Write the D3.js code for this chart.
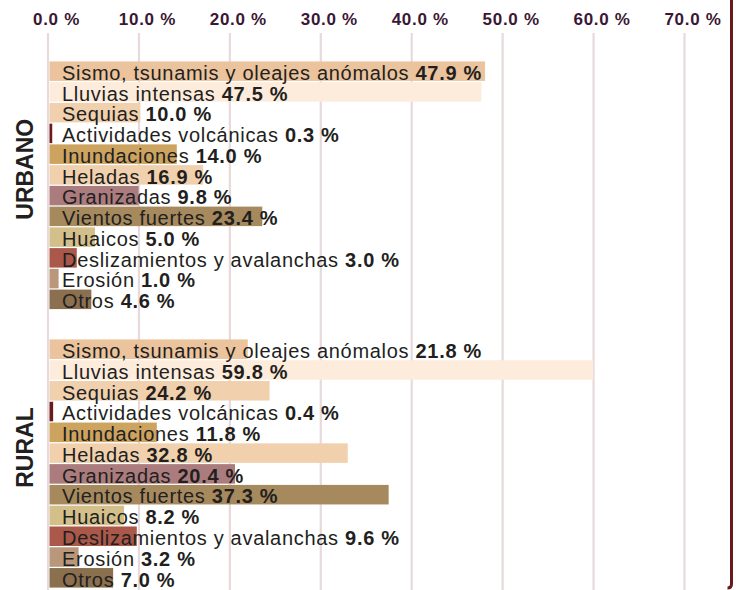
<!DOCTYPE html>
<html>
<head>
<meta charset="utf-8">
<script src="https://cdn.jsdelivr.net/npm/d3@7.9.0/dist/d3.min.js"></script>
<style>
  body { margin: 0; background: #fff; }
  svg { display: block; font-family: "Liberation Sans", Arial, sans-serif; }
</style>
</head>
<body>
<svg id="chart" width="736" height="590"></svg>
<script>
const categories = [
  'Sismo, tsunamis y oleajes anómalos', 'Lluvias intensas', 'Sequias',
  'Actividades volcánicas', 'Inundaciones', 'Heladas', 'Granizadas',
  'Vientos fuertes', 'Huaicos', 'Deslizamientos y avalanchas', 'Erosión', 'Otros'
];
const urbano = [47.9, 47.5, 10.0, 0.3, 14.0, 16.9, 9.8, 23.4, 5.0, 3.0, 1.0, 4.6];
const rural = [21.8, 59.8, 24.2, 0.4, 11.8, 32.8, 20.4, 37.3, 8.2, 9.6, 3.2, 7.0];
const ticks = [0, 10, 20, 30, 40, 50, 60, 70];
const groups = ['URBANO', 'RURAL'];

const colors = ['#ebc39c', '#fdecdb', '#f0d0ad', '#6d1a1c', '#cca35f', '#f1d1ad',
  '#ab7c7e', '#a68a5e', '#d3bf89', '#a95849', '#b9977a', '#8b704f'];

const svg = d3.select('#chart');

const x = d3.scaleLinear().domain([0, 70]).range([49.5, 686]);

// vertical grid
svg.append('g')
  .selectAll('line')
  .data(ticks)
  .join('line')
  .attr('x1', d => x(d) - 1.5).attr('x2', d => x(d) - 1.5)
  .attr('y1', 33).attr('y2', 590)
  .attr('stroke', '#e8d9da')
  .attr('stroke-width', 2.2);

// top axis labels
const axis = svg.append('g')
  .attr('transform', 'translate(0,25)')
  .call(d3.axisTop(x).tickValues(ticks).tickSize(0).tickPadding(0)
    .tickFormat(d => d.toFixed(1) + ' %'));
axis.select('.domain').remove();
axis.selectAll('text')
  .attr('dx', 6.5)
  .attr('y', 0)
  .attr('dy', 0)
  .attr('fill', '#3a1734')
  .style('font-family', '"Liberation Sans", Arial, sans-serif')
  .style('font-size', '17px')
  .style('font-weight', 'bold')
  .style('letter-spacing', '0.7px');

// right border line
svg.append('path')
  .attr('d', 'M731.5,0 L731.5,584 Q731.5,588 727.5,588')
  .attr('fill', 'none')
  .attr('stroke', '#6b181b')
  .attr('stroke-width', 3);

const groupRanges = [[61, 309.5], [339, 588]];

[urbano, rural].forEach((values, gi) => {
  const y = d3.scaleBand()
    .domain(categories)
    .range(groupRanges[gi])
    .paddingInner(0.06)
    .paddingOuter(0.02);

  const g = svg.append('g');

  g.selectAll('rect')
    .data(values)
    .join('rect')
    .attr('x', x(0))
    .attr('y', (d, i) => y(categories[i]))
    .attr('width', d => x(d) - x(0))
    .attr('height', y.bandwidth())
    .attr('fill', (d, i) => colors[i]);

  const labels = g.selectAll('text')
    .data(values)
    .join('text')
    .attr('x', 62)
    .attr('y', (d, i) => y(categories[i]) + y.bandwidth() - 1)
    .attr('fill', '#231f20')
    .style('font-size', '20px')
    .style('letter-spacing', '0.7px');
  labels.append('tspan').text((d, i) => categories[i] + ' ');
  labels.append('tspan')
    .style('font-weight', 'bold')
    .text(d => d.toFixed(1) + ' %');

  const mid = (groupRanges[gi][0] + groupRanges[gi][1]) / 2 - 16;
  svg.append('text')
    .attr('transform', `translate(33,${mid}) rotate(-90)`)
    .attr('text-anchor', 'middle')
    .attr('fill', '#231f20')
    .style('font-size', '23px')
    .style('font-weight', 'bold')
    .text(groups[gi]);
});
</script>
</body>
</html>
